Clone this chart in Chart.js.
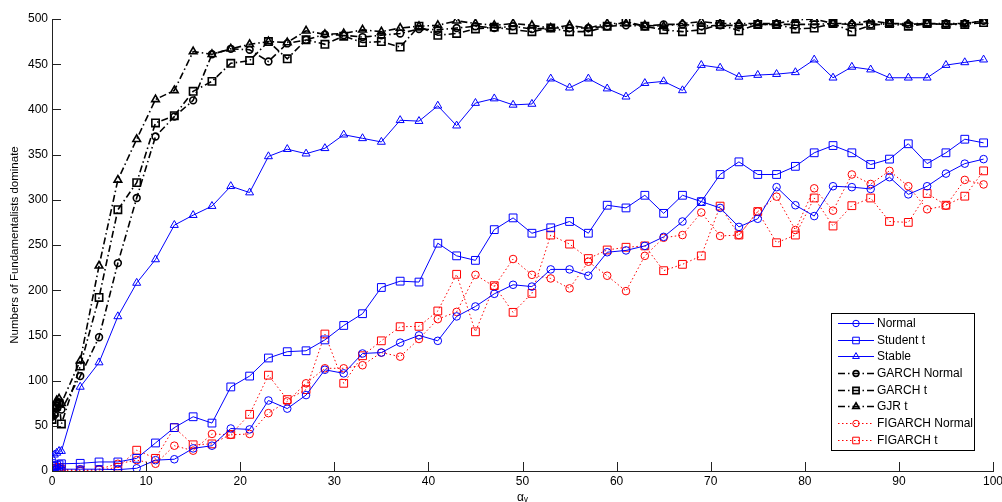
<!DOCTYPE html>
<html>
<head>
<meta charset="utf-8">
<script src="https://cdn.jsdelivr.net/npm/chart.js@4/dist/chart.umd.min.js"></script>
<style>
html, body { margin: 0; padding: 0; background: #fff; }
#contenedor { width: 1002px; height: 502px; }
</style>
</head>
<body>
<div id="contenedor"><canvas id="grafica" width="1002" height="502"></canvas></div>
<script>
// valores de alpha (eje x)
var alphas = [0, 0.25, 0.5, 0.75, 1, 3, 5, 7, 9, 11, 13, 15, 17, 19, 21, 23, 25, 27, 29, 31, 33, 35, 37, 39,
    41, 43, 45, 47, 49, 51, 53, 55, 57, 59, 61, 63, 65, 67, 69, 71, 73, 75, 77, 79, 81, 83, 85, 87, 89, 91, 93, 95, 97, 99];

var etiquetasX = [0, 10, 20, 30, 40, 50, 60, 70, 80, 90, 100];
var etiquetasY = [0, 50, 100, 150, 200, 250, 300, 350, 400, 450, 500];

var normal = [0, 1, 2, 3, 2, 2, 2, 1.5, 3, 12, 13, 25, 28, 47, 46, 78, 69, 84, 112, 108, 130, 131, 142, 150, 144, 171, 182,
    196, 206, 204, 223, 223, 216, 242, 244, 249, 259, 276, 298, 291, 270, 279, 314, 294, 282, 315, 314, 312, 325, 306, 315, 329, 340, 345];
var studentT = [3, 5, 6, 7, 8, 8.5, 10, 10, 14, 31, 48, 60, 53, 93, 105, 125, 132, 133, 145, 161, 174, 203, 210, 209, 252, 238, 233,
    267, 280, 263, 269, 276, 263, 294, 291, 305, 285, 305, 298, 328, 342, 328, 328, 337, 352, 360, 352, 339, 345, 362, 340, 352, 367, 363];
var stable = [15, 18, 20, 22, 22, 93, 120, 171, 208, 234, 272, 283, 293, 315, 308, 348, 356, 351, 357, 372, 368, 364, 388, 387, 404, 382, 407,
    412, 405, 406, 434, 424, 434, 423, 414, 429, 431, 421, 449, 446, 436, 438, 439, 441, 455, 435, 447, 444, 435, 435, 435, 449, 452, 455];
var garchNormal = [60, 62, 70, 75, 68, 105, 148, 230, 302, 370, 392, 410, 461, 467, 466, 453, 473, 477, 483, 482, 480, 482, 484, 489, 488, 490, 492,
    490, 492, 489, 490, 490, 490, 492, 493, 492, 494, 494, 492, 493, 493, 494, 494, 494, 494, 495, 494, 494, 495, 494, 495, 495, 495, 498];
var garchT = [57, 65, 72, 75, 52, 116, 192, 289, 319, 385, 393, 420, 431, 451, 454, 475, 456, 477, 472, 481, 474, 475, 469, 492, 482, 484, 489,
    491, 488, 486, 490, 486, 486, 492, 497, 492, 488, 486, 488, 494, 487, 494, 494, 489, 490, 495, 486, 493, 495, 492, 495, 494, 494, 496];
var gjrT = [62, 70, 78, 80, 75, 122, 227, 322, 367, 411, 421, 464, 461, 467, 472, 475, 474, 487, 483, 484, 488, 486, 490, 492, 493, 498, 495,
    493, 495, 493, 490, 493, 490, 495, 495, 493, 492, 495, 497, 495, 495, 495, 495, 499, 500, 495, 495, 498, 495, 495, 495, 494, 495, 498];
var figarchNormal = [0, 1, 2, 3, 1, 0, 2, 8, 12, 8, 28, 22.5, 41, 40, 41, 64, 77, 97, 113.6, 113.6, 117, 131, 126.5, 146, 168, 176, 217,
    204, 234.5, 217, 213, 202, 231.5, 216, 199, 238, 258, 261, 286, 260, 261, 287, 303.5, 266.6, 312.7, 288, 328, 317.5, 332, 315, 289.5, 293.5, 322, 317];
var figarchT = [1, 2, 3, 4, 2, 1, 1, 4, 23, 14, 48, 29, 30, 40.5, 62.7, 106, 79, 90, 151.5, 97, 127.5, 144, 159.6, 160, 177, 217.6, 154,
    205, 175.5, 196.5, 261, 251, 235, 244.5, 247.5, 249, 221.6, 228.6, 238, 293, 261, 287, 252.5, 261, 302, 271, 293.5, 302, 276, 275, 307, 294, 304, 332];

var fuente = "'Liberation Sans', Arial, sans-serif";

function puntos(valores)
{
    return alphas.map(function(a, i) { return { x: a, y: valores[i] }; });
}

function serie(nombre, valores, color, forma, radio, grosor, guiones)
{
    return {
        label: nombre,
        data: puntos(valores),
        borderColor: color,
        borderWidth: grosor,
        borderDash: guiones,
        backgroundColor: 'rgba(0,0,0,0)',
        pointStyle: forma,
        pointRadius: radio,
        pointBorderColor: color,
        pointBackgroundColor: 'rgba(0,0,0,0)',
        pointBorderWidth: grosor,
        showLine: true,
        fill: false,
        tension: 0
    };
}

function dibujarMarcador(ctx, forma, r, x, y)
{
    ctx.beginPath();
    if (forma === 'circle') {
        ctx.arc(x, y, r, 0, Math.PI * 2);
    } else if (forma === 'rect') {
        var s = r * Math.SQRT1_2;
        ctx.rect(x - s, y - s, 2 * s, 2 * s);
    } else {
        ctx.moveTo(x, y - r);
        ctx.lineTo(x + r * 0.866, y + r * 0.5);
        ctx.lineTo(x - r * 0.866, y + r * 0.5);
        ctx.closePath();
    }
    ctx.stroke();
}

// marcas del eje hacia adentro, como en matlab
var ticksAdentro = {
    id: 'ticksAdentro',
    afterDraw: function(chart)
    {
        var ctx = chart.ctx;
        var area = chart.chartArea;
        var ex = chart.scales.x, ey = chart.scales.y;
        ctx.save();
        ctx.strokeStyle = '#222';
        ctx.lineWidth = 1;
        ctx.beginPath();
        ex.ticks.forEach(function(t) {
            var px = Math.round(ex.getPixelForValue(t.value)) + 0.5;
            ctx.moveTo(px, area.bottom);
            ctx.lineTo(px, area.bottom - 9);
        });
        ey.ticks.forEach(function(t) {
            var py = Math.round(ey.getPixelForValue(t.value)) + 0.5;
            ctx.moveTo(area.left, py);
            ctx.lineTo(area.left + 9, py);
        });
        ctx.stroke();
        ctx.restore();
    }
};

// leyenda dentro del area, abajo a la derecha
var leyenda = {
    id: 'leyenda',
    afterDraw: function(chart)
    {
        var ctx = chart.ctx;
        var area = chart.chartArea;
        var ancho = 143, alto = 137;
        var der = area.right - 19, abajo = area.bottom - 21;
        var izq = der - ancho, arriba = abajo - alto;

        ctx.save();
        ctx.fillStyle = '#fff';
        ctx.fillRect(izq, arriba, ancho, alto);
        ctx.strokeStyle = '#000';
        ctx.lineWidth = 1;
        ctx.strokeRect(Math.round(izq) + 0.5, Math.round(arriba) + 0.5, ancho, alto);

        ctx.font = '12px ' + fuente;
        ctx.textBaseline = 'middle';
        chart.data.datasets.forEach(function(ds, i) {
            var y = Math.round(arriba + 10 + i * 16.67) + 0.5;
            var x0 = izq + 7, x1 = izq + 43;
            ctx.strokeStyle = ds.borderColor;
            ctx.lineWidth = ds.borderWidth;
            ctx.setLineDash(ds.borderDash || []);
            ctx.beginPath();
            ctx.moveTo(x0, y);
            ctx.lineTo(x1, y);
            ctx.stroke();
            ctx.setLineDash([]);
            dibujarMarcador(ctx, ds.pointStyle, ds.pointRadius * 0.85, (x0 + x1) / 2, y);
            ctx.fillStyle = '#000';
            ctx.fillText(ds.label, izq + 46, y);
        });
        ctx.restore();
    }
};

var azul = '#0000ff', rojo = '#ff0000', negro = '#000000';
var rayaPunto = [7, 3, 1.5, 3];
var punteado = [1.5, 2.5];

var ctx = document.getElementById('grafica').getContext('2d');
var chart = new Chart(ctx, {
    type: 'line',
    data: {
        datasets: [
            serie('Normal', normal, azul, 'circle', 3.8, 1, []),
            serie('Student t', studentT, azul, 'rect', 5.5, 1, []),
            serie('Stable', stable, azul, 'triangle', 4.6, 1, []),
            serie('GARCH Normal', garchNormal, negro, 'circle', 3.4, 1.6, rayaPunto),
            serie('GARCH t', garchT, negro, 'rect', 5.2, 1.6, rayaPunto),
            serie('GJR t', gjrT, negro, 'triangle', 4.4, 1.6, rayaPunto),
            serie('FIGARCH Normal', figarchNormal, rojo, 'circle', 3.8, 1, punteado),
            serie('FIGARCH t', figarchT, rojo, 'rect', 5.5, 1, punteado)
        ]
    },
    options: {
        responsive: false,
        animation: false,
        layout: { padding: { top: 19, right: 9, left: 0, bottom: 0 } },
        plugins: {
            legend: { display: false },
            tooltip: { enabled: false }
        },
        scales: {
            x: {
                type: 'linear',
                min: 0,
                max: 100,
                afterBuildTicks: function(s) { s.ticks = etiquetasX.map(function(v) { return { value: v }; }); },
                ticks: { color: '#000', padding: 3, maxRotation: 0, font: { family: fuente, size: 12 } },
                grid: { display: false, drawTicks: false },
                border: { display: true, color: '#222', width: 1 },
                title: { display: true, text: 'αᵥ', color: '#000', padding: { top: 0, bottom: 0 }, font: { family: fuente, size: 12, lineHeight: 0.7 } },
                afterFit: function(s) { s.height = 31; s.paddingLeft = 0; s.paddingRight = 0; }
            },
            y: {
                min: 0,
                max: 500,
                afterBuildTicks: function(s) { s.ticks = etiquetasY.map(function(v) { return { value: v }; }); },
                ticks: { color: '#000', padding: 4, font: { family: fuente, size: 12 } },
                grid: { display: false, drawTicks: false },
                border: { display: true, color: '#222', width: 1 },
                title: { display: true, text: 'Numbers of Fundamentalists dominate', color: '#000', padding: { top: 8, bottom: 0 }, font: { family: fuente, size: 11.5 } },
                afterFit: function(s) { s.width = 52; s.paddingTop = 0; s.paddingBottom = 0; }
            }
        }
    },
    plugins: [ticksAdentro, leyenda]
});
</script>
</body>
</html>
